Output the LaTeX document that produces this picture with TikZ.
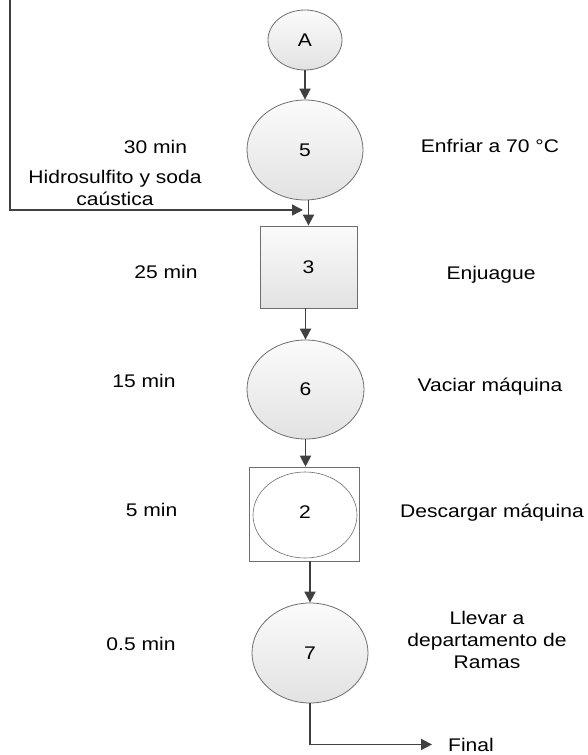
\documentclass[tikz,border=0pt]{standalone}
\usepackage{fontspec}
\setmainfont{Liberation Sans}[FakeStretch=1.15]
\usetikzlibrary{arrows.meta,shapes.geometric}

\definecolor{edgegray}{HTML}{6E6E6E}
\definecolor{linegray}{HTML}{404040}
\definecolor{fillhi}{HTML}{FBFBFB}
\definecolor{filllo}{HTML}{E2E2E2}

\begin{document}
\begin{tikzpicture}[x=1pt,y=-1pt,
  every node/.style={font=\fontsize{18.3}{22}\selectfont},
  shaded/.style={draw=edgegray, line width=0.8pt, top color=fillhi, bottom color=filllo},
  opshape/.style={shaded, ellipse, inner sep=0pt},
  boxshape/.style={shaded, rectangle, inner sep=0pt},
  plainshape/.style={draw=edgegray, line width=0.6pt, fill=white, inner sep=0pt},
  flow/.style={draw=linegray, line width=1.8pt, -{Triangle[length=11pt,width=11pt]}},
  lbl/.style={inner sep=0pt, align=center}]

% page
\fill[white] (0,0) rectangle (588,755);
\useasboundingbox (0,0) rectangle (588,755);

% process symbols
\node[opshape, minimum width=74pt, minimum height=60pt] (nA) at (305,40) {A};
\node[opshape, minimum width=116pt, minimum height=100pt] (n5) at (305,150) {5};
\node[boxshape, minimum width=97pt, minimum height=82pt] (n3) at (308.5,267) {3};
\node[opshape, minimum width=117pt, minimum height=99pt] (n6) at (305.5,389.5) {6};
\node[plainshape, minimum width=110pt, minimum height=94pt] (n2box) at (304,514) {};
\node[plainshape, ellipse, minimum width=104pt, minimum height=86pt] (n2) at (305,515) {\raisebox{6pt}{2}};
\node[opshape, minimum width=116pt, minimum height=100pt] (n7) at (310,653) {7};

% time labels
\node[lbl, anchor=base] (t30) at (155.5,153) {30 min};
\node[lbl, anchor=north] (tchem) at (115,169.7) {Hidrosulfito y soda\\caústica};
\node[lbl, anchor=base] (t25) at (166,278) {25 min};
\node[lbl, anchor=base] (t15) at (144,387) {15 min};
\node[lbl, anchor=base] (t5) at (151.5,516) {5 min};
\node[lbl, anchor=base] (t05) at (141,650) {0.5 min};

% step descriptions
\node[lbl, anchor=base] (d5) at (490,152) {Enfriar a 70 °C};
\node[lbl, anchor=base] (d3) at (491,279) {Enjuague};
\node[lbl, anchor=base] (d6) at (490,391) {Vaciar máquina};
\node[lbl, anchor=base] (d2) at (492,517) {Descargar máquina};
\node[lbl, anchor=north] (d7) at (487,610.7) {Llevar a\\departamento de\\Ramas};
\node[lbl, anchor=base west] (fin) at (448,751) {Final};

% connectors
\coordinate (src) at (10,0);
\coordinate (join) at (303,210);
\draw[flow, line width=1.5pt] (src) |- (join);
\draw[flow] (nA.south) -- (n5.north);
\draw[flow] (n5.south -| n3.north) -- (n3.north);
\draw[flow] (n3.south -| n6.north) -- (n6.north);
\draw[flow] (n6.south) -- (n6.south |- n2box.north);
\draw[flow] (n2box.south -| n7.north) -- (n7.north);
\draw[flow] (n7.south) |- ([xshift=-16pt]fin.west);
\end{tikzpicture}
\end{document}
